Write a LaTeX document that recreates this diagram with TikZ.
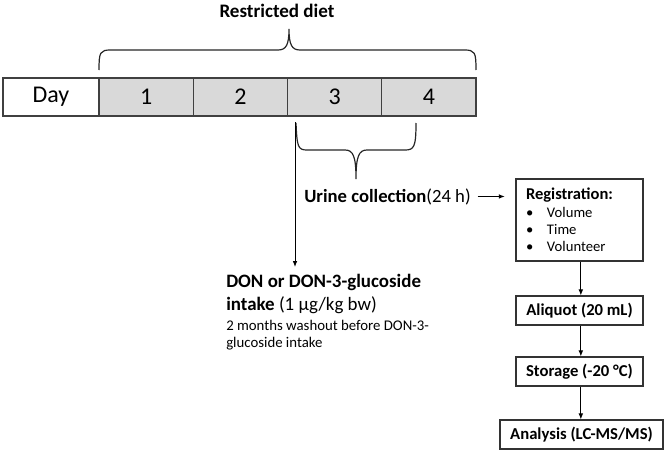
\documentclass[tikz,border=0pt]{standalone}
\usepackage{fontspec}
\setmainfont{Carlito}
\usetikzlibrary{arrows.meta}

\begin{document}
\begin{tikzpicture}[
x=0.75pt,y=-0.75pt,
cell/.style={rectangle, draw=black!75, fill=lightgray!60, line width=0.8pt, minimum width=70.7pt, minimum height=28.5pt, inner sep=0pt, font=\fontsize{18}{20}\selectfont},
daycell/.style={cell, fill=white, minimum width=72pt},
brace/.style={line width=0.9pt, black!85},
flow/.style={-{Latex[length=4.5pt,width=3.5pt]}, line width=0.75pt},
box/.style={rectangle, draw=black!80, line width=0.8pt, inner sep=0pt, minimum width=95.25pt, minimum height=21.75pt, font=\bfseries\fontsize{12.5}{14}\selectfont},
]
\useasboundingbox (0,0) rectangle (666,453);

%draw day bar
\node[daycell] (day) at (51,97) {Day};
\foreach \d in {1,...,4}
  \node[cell] (c\d) at (99+94.25*\d-47.125,97) {\d};

%draw braces
\node[font=\bfseries\fontsize{14.3}{16}\selectfont] (diet) at (277,11) {Restricted diet};
\draw[brace] (99,70) .. controls (99,52) and (100,50) .. (111,50) -- (278,50)
  .. controls (286,50) and (289,45) .. (289,29) .. controls (289,45) and (292,50) .. (300,50)
  -- (464,50) .. controls (475,50) and (476,52) .. (476,70);
\draw[brace] (296,123) .. controls (297,147) and (298,150) .. (307,150) -- (345,150)
  .. controls (353,150) and (356,156) .. (356,179) .. controls (356,156) and (359,150) .. (367,150)
  -- (405,150) .. controls (414,150) and (416,147) .. (416,123);

%draw urine collection
\node[anchor=base west, inner sep=0pt, font=\fontsize{14}{16}\selectfont] (urine) at (304,202) {\textbf{Urine collection}(24 h)};
\node[box, minimum height=61.5pt, text width=80.25pt, inner xsep=7.5pt, align=left, font=\fontsize{11}{13}\selectfont] (reg) at (579.5,220)
  {{\bfseries\fontsize{12.4}{13}\selectfont Registration:}\\
   \makebox[15.75pt][l]{\textbullet}Volume\\
   \makebox[15.75pt][l]{\textbullet}Time\\
   \makebox[15.75pt][l]{\textbullet}Volunteer};
\node[box] (aliq) at (579.5,310.5) {Aliquot (20 mL)};
\node[box] (stor) at (579.5,371.5) {Storage (-20 °C)};
\node[box, minimum width=122.25pt] (ana) at (581.5,434.5) {Analysis (LC-MS/MS)};

\draw[flow] ([xshift=5pt]urine.east) -- ([xshift=-8pt]urine.east -| reg.west);
\draw[flow] ([xshift=1pt]reg.south) -- ([xshift=1pt]aliq.north);
\draw[flow] ([xshift=1pt]aliq.south) -- ([xshift=1pt]stor.north);
\draw[flow] ([xshift=1pt]stor.south) -- ([xshift=1pt]stor.south |- ana.north);

%draw intake
\node[anchor=base west, inner sep=0pt, align=left, font=\fontsize{14.2}{17.25}\selectfont] (don) at (226,310)
  {\textbf{DON or DON-3-glucoside}\\\textbf{intake} (1 µg/kg bw)};
\node[anchor=base west, inner sep=0pt, align=left, font=\fontsize{11.1}{12.75}\selectfont] (wash) at (226,347)
  {2 months washout before DON-3-\\glucoside intake};
\coordinate (intaketop) at (295,122);
\coordinate (intakeend) at (295,267);
\draw[flow] (intaketop) -- (intakeend);

\end{tikzpicture}
\end{document}
